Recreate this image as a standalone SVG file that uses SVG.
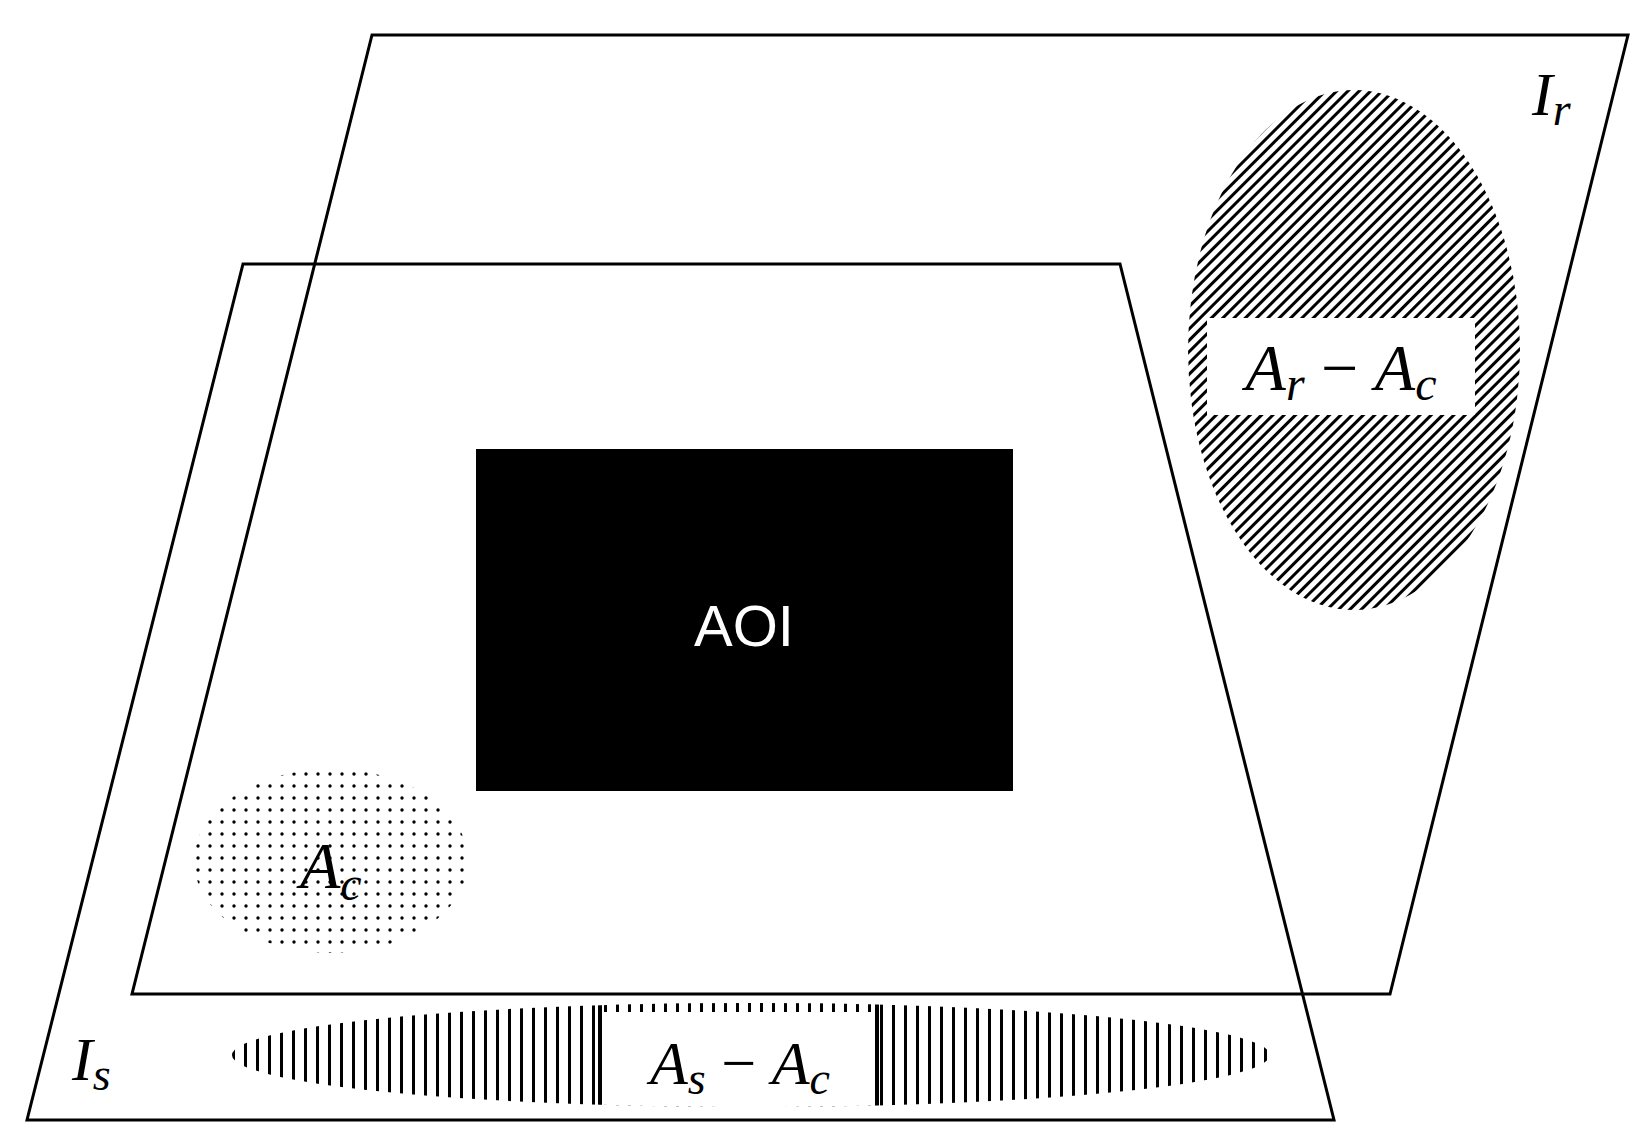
<svg xmlns="http://www.w3.org/2000/svg" width="1651" height="1146" viewBox="0 0 1651 1146">
<style>
.frame{fill:none;stroke:#000;stroke-width:3}
.math{font-family:"Liberation Serif",serif;font-style:italic;fill:#000}
</style>
<defs>
<pattern id="hatch" width="8" height="8" patternUnits="userSpaceOnUse" patternTransform="rotate(45)">
<rect x="0" y="0" width="3" height="8" fill="#000"/>
</pattern>
<pattern id="dots" width="12" height="12" patternUnits="userSpaceOnUse">
<circle cx="6" cy="6" r="1.7" fill="#000"/>
</pattern>
<pattern id="vlines" width="12" height="20" patternUnits="userSpaceOnUse">
<rect x="4" y="0" width="3" height="20" fill="#000"/>
</pattern>
<clipPath id="asclip"><ellipse cx="751" cy="1055" rx="519" ry="52"/></clipPath>
</defs>
<rect width="1651" height="1146" fill="#fff"/>
<g id="Ir">
<polygon class="frame" points="372,35 1628,35 1390,994 132,994"/>
<text class="math" x="1532" y="115" font-size="62">I<tspan font-size="46" dy="10">r</tspan></text>
</g>
<g id="Is">
<polygon class="frame" points="243,264 1120,264 1334,1120 27,1120"/>
<text class="math" x="72" y="1080" font-size="62">I<tspan font-size="46" dy="10">s</tspan></text>
</g>
<g id="AOI">
<rect x="476" y="449" width="537" height="342" fill="#000"/>
<text x="744" y="646" font-size="58" fill="#fff" text-anchor="middle" font-family="Liberation Sans, sans-serif">AOI</text>
</g>
<g id="ArAc">
<ellipse cx="1354" cy="350" rx="166" ry="260" fill="url(#hatch)"/>
<rect x="1207" y="318" width="268" height="97" fill="#fff"/>
<text class="math" x="1341" y="390" font-size="66" text-anchor="middle">A<tspan font-size="48" dy="10">r</tspan><tspan dy="-10" font-style="normal"> − </tspan>A<tspan font-size="48" dy="10">c</tspan></text>
</g>
<g id="Ac">
<ellipse cx="331" cy="861" rx="137" ry="92" fill="url(#dots)"/>
<text class="math" x="300" y="888" font-size="66">A<tspan font-size="48" dy="12">c</tspan></text>
</g>
<g id="AsAc">
<ellipse cx="751" cy="1055" rx="519" ry="52" fill="url(#vlines)"/>
<g clip-path="url(#asclip)">
<rect x="600" y="990" width="277" height="130" fill="#fff"/>
<rect x="600" y="990" width="277" height="22" fill="url(#vlines)"/>
<rect x="598" y="990" width="4" height="130" fill="#000"/>
<rect x="875" y="990" width="4" height="130" fill="#000"/>
</g>
<text class="math" x="740" y="1084" font-size="62" text-anchor="middle">A<tspan font-size="46" dy="10">s</tspan><tspan dy="-10" font-style="normal"> − </tspan>A<tspan font-size="46" dy="10">c</tspan></text>
</g>
<g id="connectors"/>
</svg>
